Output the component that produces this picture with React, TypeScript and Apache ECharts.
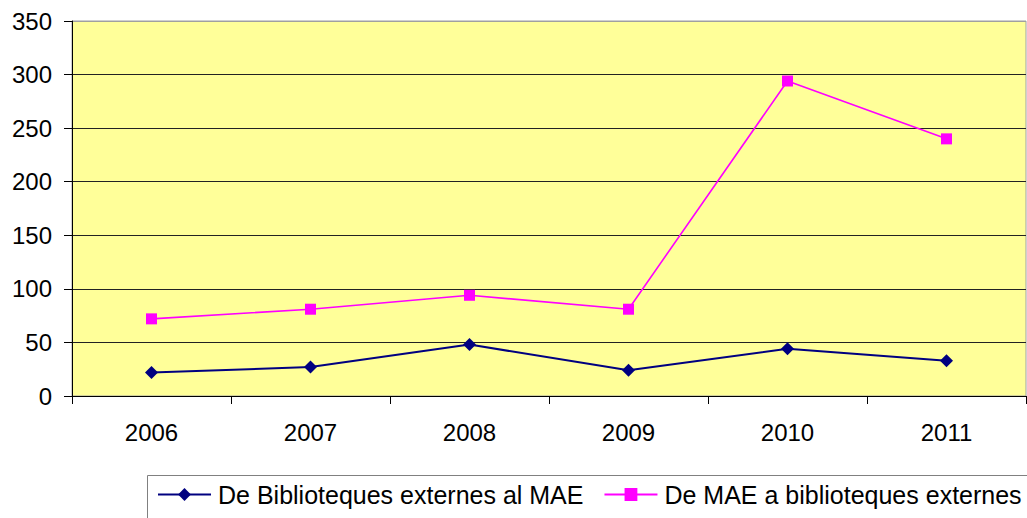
import React, { useEffect, useRef } from "react";
import * as echarts from "echarts";

const years = ["2006", "2007", "2008", "2009", "2010", "2011"];
const seriesNames = ["De Biblioteques externes al MAE", "De MAE a biblioteques externes"];
const externToMae = [22, 27, 48, 24, 44, 33];
const maeToExtern = [72, 81, 94, 81, 294, 240];
const yTicks = [0, 50, 100, 150, 200, 250, 300, 350];

export default function App() {
  const ref = useRef<HTMLDivElement>(null);
  useEffect(() => {
    if (!ref.current) return;
    const chart = echarts.init(ref.current, null, { renderer: "svg" });
    const font = "'Liberation Sans', Arial, sans-serif";
    chart.setOption({
      animation: false,
      backgroundColor: "#ffffff",
      textStyle: { fontFamily: font },
      grid: {
        left: 72,
        right: 1,
        top: 21,
        bottom: 122,
        show: true,
        backgroundColor: "#FFFF99",
        borderColor: "#a0a0a0",
        borderWidth: 1,
      },
      legend: {
        left: 157,
        top: 482,
        padding: 0,
        itemWidth: 53,
        itemHeight: 16,
        itemGap: 20,
        textStyle: { fontSize: 25, color: "#000", fontFamily: font, padding: [0, 0, 0, 2] },
        data: seriesNames,
      },
      graphic: [
        {
          type: "rect",
          shape: { x: 147.5, y: 475.5, width: 900, height: 60 },
          style: { fill: "none", stroke: "#808080", lineWidth: 1 },
          silent: true,
        },
      ],
      xAxis: {
        type: "category",
        data: years,
        boundaryGap: true,
        axisLine: { lineStyle: { color: "#000", width: 1 } },
        axisTick: { show: true, inside: false, length: 8, alignWithLabel: false, lineStyle: { color: "#000" } },
        axisLabel: { fontSize: 24, color: "#000", margin: 24, fontFamily: font },
        splitLine: { show: false },
      },
      yAxis: {
        type: "value",
        min: yTicks[0],
        max: yTicks[yTicks.length - 1],
        interval: 50,
        axisLine: { show: true, lineStyle: { color: "#000", width: 1 } },
        axisTick: { show: true, length: 8, lineStyle: { color: "#000" } },
        axisLabel: { fontSize: 24, color: "#000", margin: 20, fontFamily: font },
        splitLine: {
          show: true,
          lineStyle: {
            color: ["#000", "#222", "#222", "#222", "#222", "#222", "#222", "#a0a0a0"],
            width: 1,
          },
        },
      },
      series: [
        {
          name: seriesNames[0],
          type: "line",
          data: externToMae,
          symbol: "diamond",
          symbolSize: 13,
          itemStyle: { color: "#000080" },
          lineStyle: { color: "#000080", width: 2 },
        },
        {
          name: seriesNames[1],
          type: "line",
          data: maeToExtern,
          symbol: "rect",
          symbolSize: 11,
          itemStyle: { color: "#FF00FF" },
          lineStyle: { color: "#FF00FF", width: 1.6 },
        },
      ],
    });
    return () => chart.dispose();
  }, []);
  return (
    <div
      ref={ref}
      style={{ position: "fixed", left: 0, top: 0, width: 1027, height: 518 }}
    />
  );
}
